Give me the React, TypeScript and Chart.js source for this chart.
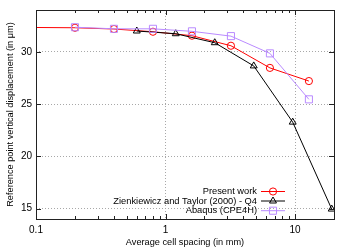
import React, { useEffect, useRef } from "react";
import { Chart, registerables } from "chart.js";

Chart.register(...registerables);

// ---- data ----
const presentX = [0.05, 0.2, 0.4, 0.8, 1.6, 3.2, 6.4, 12.8];
const presentY = [32.35, 32.3, 32.18, 31.92, 31.54, 30.58, 28.46, 27.2];
const zienX = [0.6, 1.2, 2.4, 4.8, 9.6, 19.2];
const zienY = [31.99, 31.73, 30.87, 28.65, 23.27, 14.95];
const abaqusX = [0.2, 0.4, 0.8, 1.6, 3.2, 6.4, 12.8];
const abaqusY = [32.35, 32.2, 32.2, 31.96, 31.5, 29.85, 25.45];

const xMajorTicks = [0.1, 1, 10];
const xMinorTicks = [0.2, 0.3, 0.4, 0.5, 0.6, 0.7, 0.8, 0.9, 2, 3, 4, 5, 6, 7, 8, 9, 20];
const yMajorTicks = [15, 20, 25, 30];

const seriesNames = ["Present work", "Zienkiewicz and Taylor (2000) - Q4", "Abaqus (CPE4H)"];
const RED = "#ff0000";
const BLACK = "#000000";
const PURPLE = "#b98aff";
const FONT = "'Liberation Sans', Arial, sans-serif";

const toXY = (xs: number[], ys: number[]) => xs.map((x, i) => ({ x, y: ys[i] }));

function drawMarker(ctx: CanvasRenderingContext2D, style: string, r: number, x: number, y: number) {
  ctx.beginPath();
  if (style === "circle") {
    ctx.arc(x, y, r, 0, Math.PI * 2);
  } else if (style === "triangle") {
    const hw = r * Math.sin((2 * Math.PI) / 3);
    ctx.moveTo(x, y - r);
    ctx.lineTo(x + hw, y + r / 2);
    ctx.lineTo(x - hw, y + r / 2);
    ctx.closePath();
  } else {
    const s = r * Math.SQRT1_2;
    ctx.rect(x - s, y - s, 2 * s, 2 * s);
  }
  ctx.stroke();
}

export default function App() {
  const ref = useRef<HTMLCanvasElement | null>(null);

  useEffect(() => {
    document.body.style.margin = "0";
    const canvas = ref.current;
    if (!canvas) return;

    const framePlugin = {
      id: "frame",
      afterDatasetsDraw(chart: any) {
        const ctx = chart.ctx;
        const { left, right, top, bottom } = chart.chartArea;
        const xs = chart.scales.x;
        const ys = chart.scales.y;
        ctx.save();
        ctx.strokeStyle = "#222";
        ctx.lineWidth = 1;
        ctx.beginPath();
        const tickX = (v: number, len: number) => {
          const p = Math.round(xs.getPixelForValue(v)) + 0.5;
          if (p < left - 0.5 || p > right + 0.5) return;
          ctx.moveTo(p, bottom);
          ctx.lineTo(p, bottom - len);
          ctx.moveTo(p, top);
          ctx.lineTo(p, top + len);
        };
        xMajorTicks.forEach((v) => tickX(v, 5));
        xMinorTicks.forEach((v) => tickX(v, 3));
        yMajorTicks.forEach((v) => {
          const p = Math.round(ys.getPixelForValue(v)) + 0.5;
          ctx.moveTo(left, p);
          ctx.lineTo(left + 5, p);
          ctx.moveTo(right, p);
          ctx.lineTo(right - 5, p);
        });
        ctx.stroke();
        ctx.strokeRect(Math.round(left) + 0.5, Math.round(top) + 0.5, Math.round(right - left), Math.round(bottom - top));
        ctx.restore();

        // legend
        const rows = [191.5, 201, 210.7];
        const colors = [RED, BLACK, PURPLE];
        const styles = ["circle", "triangle", "rect"];
        const radii = [3.6, 4, 5];
        ctx.save();
        ctx.font = `9.3px ${FONT}`;
        ctx.textAlign = "right";
        ctx.textBaseline = "middle";
        rows.forEach((ry, i) => {
          ctx.fillStyle = "#000";
          ctx.fillText(seriesNames[i], 257, ry);
          ctx.strokeStyle = colors[i];
          ctx.lineWidth = 1;
          ctx.beginPath();
          ctx.moveTo(261, ry);
          ctx.lineTo(285, ry);
          ctx.stroke();
          drawMarker(ctx, styles[i], radii[i], 273, ry);
        });
        ctx.restore();

        // axis titles
        ctx.save();
        ctx.font = `9.2px ${FONT}`;
        ctx.fillStyle = "#000";
        ctx.textAlign = "center";
        ctx.textBaseline = "middle";
        ctx.fillText("Average cell spacing (in mm)", (left + right) / 2, 242);
        ctx.translate(10, (top + bottom) / 2);
        ctx.rotate(-Math.PI / 2);
        ctx.fillText("Reference point vertical displacement (in \u03bcm)", 0, 0);
        ctx.restore();
      },
    };

    const chart = new Chart(canvas, {
      type: "line",
      data: {
        datasets: [
          {
            label: seriesNames[0],
            data: toXY(presentX, presentY),
            borderColor: RED,
            backgroundColor: "rgba(0,0,0,0)",
            borderWidth: 1,
            pointStyle: "circle",
            pointRadius: 3.6,
            pointBorderWidth: 1,
            pointBorderColor: RED,
            pointBackgroundColor: "rgba(0,0,0,0)",
            order: 3,
          },
          {
            label: seriesNames[1],
            data: toXY(zienX, zienY),
            borderColor: BLACK,
            backgroundColor: "rgba(0,0,0,0)",
            borderWidth: 1,
            pointStyle: "triangle",
            pointRadius: 4,
            pointBorderWidth: 1,
            pointBorderColor: BLACK,
            pointBackgroundColor: "rgba(0,0,0,0)",
            order: 2,
          },
          {
            label: seriesNames[2],
            data: toXY(abaqusX, abaqusY),
            borderColor: PURPLE,
            backgroundColor: "rgba(0,0,0,0)",
            borderWidth: 1,
            pointStyle: "rect",
            pointRadius: 5,
            pointBorderWidth: 1,
            pointBorderColor: PURPLE,
            pointBackgroundColor: "rgba(0,0,0,0)",
            order: 1,
          },
        ],
      },
      options: {
        animation: false,
        responsive: false,
        maintainAspectRatio: false,
        devicePixelRatio: 1,
        layout: { padding: { top: 10, right: 5, left: 0, bottom: 0 } },
        plugins: { legend: { display: false }, tooltip: { enabled: false } },
        elements: { line: { tension: 0 } },
        scales: {
          x: {
            type: "logarithmic",
            min: 0.1,
            max: 20,
            afterBuildTicks: (scale: any) => {
              scale.ticks = xMajorTicks.map((v) => ({ value: v }));
            },
            afterFit: (scale: any) => {
              scale.height = 30;
            },
            ticks: {
              autoSkip: false,
              maxRotation: 0,
              padding: 5,
              color: "#000",
              font: { family: FONT, size: 10 },
              callback: (v: any) => String(v),
            },
            grid: {
              drawTicks: false,
              color: (c: any) => (c.tick && c.tick.value === 0.1 ? "rgba(0,0,0,0)" : "#a8a8a8"),
              lineWidth: 1,
            },
            border: { display: false, dash: [1, 2] },
          },
          y: {
            type: "linear",
            min: 14,
            max: 34,
            afterBuildTicks: (scale: any) => {
              scale.ticks = yMajorTicks.map((v) => ({ value: v }));
            },
            afterFit: (scale: any) => {
              scale.width = 36;
            },
            ticks: {
              padding: 4,
              color: "#000",
              font: { family: FONT, size: 10 },
            },
            grid: {
              drawTicks: false,
              color: "#a8a8a8",
              lineWidth: 1,
            },
            border: { display: false, dash: [1, 2] },
          },
        },
      },
      plugins: [framePlugin],
    } as any);

    return () => chart.destroy();
  }, []);

  return (
    <div style={{ width: 340, height: 249, position: "relative" }}>
      <canvas ref={ref} width={340} height={249} style={{ display: "block", width: 340, height: 249 }} />
    </div>
  );
}
